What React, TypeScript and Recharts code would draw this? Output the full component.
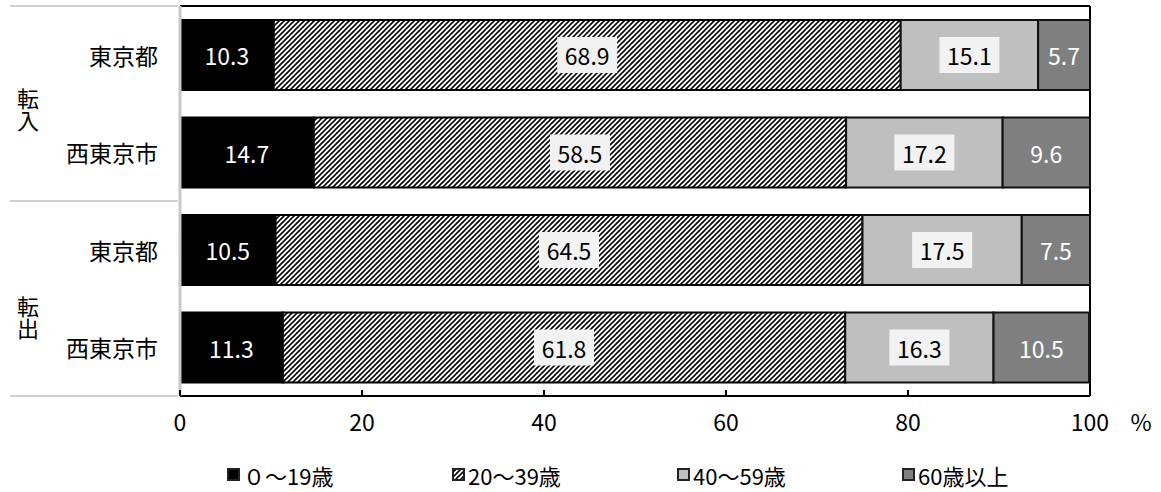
import React from 'react';
import { BarChart, Bar, XAxis, YAxis, LabelList, Customized } from 'recharts';

// Row labels (two origin groups, each split into Tokyo / Nishitokyo)
const groups = ['転入', '転出'];
const categories = ['東京都', '西東京市', '東京都', '西東京市'];

// Age-bracket shares (%)
const age0to19 = [10.3, 14.7, 10.5, 11.3];
const age20to39 = [68.9, 58.5, 64.5, 61.8];
const age40to59 = [15.1, 17.2, 17.5, 16.3];
const age60plus = [5.7, 9.6, 7.5, 10.5];

const seriesNames = ['０～19歳', '20～39歳', '40～59歳', '60歳以上'];
const xTicks = [0, 20, 40, 60, 80, 100];

const data = categories.map((name, i) => ({
  row: String(i),
  name,
  a: age0to19[i],
  b: age20to39[i],
  c: age40to59[i],
  d: age60plus[i],
}));

const W = 1161;
const H = 492;
const MARGIN = { top: 6, right: 71, bottom: 36, left: 10 };
const Y_AXIS_W = 170;
const X_AXIS_H = 60;
const FONT = "'Noto Sans CJK JP', 'Noto Sans', sans-serif";

const PLOT_LEFT = MARGIN.left + Y_AXIS_W;
const PLOT_RIGHT = W - MARGIN.right;
const PLOT_TOP = MARGIN.top;
const PLOT_BOTTOM = H - MARGIN.bottom - X_AXIS_H;

const LIGHT = '#bfbfbf';
const DARK = '#7f7f7f';

const makeLabel = (textColor: string, boxed: boolean) => (props: any) => {
  const { x, y, width, height, value } = props;
  const cx = Number(x) + Number(width) / 2;
  const cy = Number(y) + Number(height) / 2;
  return (
    <g>
      {boxed && <rect x={cx - 30} y={cy - 18} width={60} height={36} fill="#f2f2f2" />}
      <text
        x={cx}
        y={cy}
        textAnchor="middle"
        dominantBaseline="central"
        fill={textColor}
        fontSize={23}
        fontFamily={FONT}
      >
        {Number(value).toFixed(1)}
      </text>
    </g>
  );
};

const CategoryTick = (props: any) => {
  const { x, y, payload } = props;
  const name = data[Number(payload.value)]?.name ?? '';
  return (
    <text
      x={x - 22}
      y={y}
      textAnchor="end"
      dominantBaseline="central"
      fontSize={23}
      fontFamily={FONT}
      fill="#000"
    >
      {name}
    </text>
  );
};

const ValueTick = (props: any) => {
  const { x, y, payload } = props;
  return (
    <g>
      <line x1={x} y1={y} x2={x} y2={y - 6} stroke="#000" strokeWidth={2} />
      <text x={x} y={y + 35} textAnchor="middle" fontSize={23} fontFamily={FONT} fill="#000">
        {payload.value}
      </text>
    </g>
  );
};

// Frame, group separators, vertical group titles and the unit mark
const Decorations = () => {
  const half = (PLOT_BOTTOM - PLOT_TOP) / 2;
  const seps = [PLOT_TOP, PLOT_TOP + half, PLOT_BOTTOM];
  const titleX = 28;
  const titleTop = [88, 296];
  return (
    <g>
      {seps.map((y, i) => (
        <line key={i} x1={10} y1={y} x2={PLOT_LEFT - 2} y2={y} stroke="#d0d0d0" strokeWidth={2} />
      ))}
      <line x1={PLOT_LEFT} y1={PLOT_TOP} x2={PLOT_RIGHT} y2={PLOT_TOP} stroke="#000" strokeWidth={2} />
      <line x1={PLOT_RIGHT} y1={PLOT_TOP} x2={PLOT_RIGHT} y2={PLOT_BOTTOM} stroke="#000" strokeWidth={2} />
      {groups.map((g, i) => (
        <text
          key={g}
          x={titleX}
          y={titleTop[i]}
          style={{ writingMode: 'vertical-rl' as any }}
          fontSize={22}
          fontFamily={FONT}
          fill="#000"
        >
          {g}
        </text>
      ))}
      <text x={1141} y={PLOT_BOTTOM + 35} textAnchor="middle" fontSize={23} fontFamily={FONT} fill="#000">
        %
      </text>
    </g>
  );
};

const Hatch = ({ id }: { id: string }) => (
  <pattern id={id} patternUnits="userSpaceOnUse" width={5} height={5}>
    <rect width={5} height={5} fill="#fff" />
    <path d="M-1,1 l2,-2 M0,5 l5,-5 M4,6 l2,-2" stroke="#000" strokeWidth={1.6} />
  </pattern>
);

const legendFills = ['#000', 'url(#hatchLegend)', LIGHT, DARK];

const LegendRow = () => (
  <div
    style={{
      position: 'absolute',
      top: 462,
      left: 227,
      display: 'flex',
      alignItems: 'center',
      fontFamily: FONT,
      fontSize: 22,
      lineHeight: '26px',
      color: '#000',
    }}
  >
    {seriesNames.map((n, i) => (
      <div key={n} style={{ width: 225, display: 'flex', alignItems: 'center' }}>
        <svg width={14} height={14} style={{ marginRight: 2 }}>
          <defs>
            <Hatch id="hatchLegend" />
          </defs>
          <rect x={1} y={1} width={11} height={11} fill={legendFills[i]} stroke="#222" strokeWidth={2} />
        </svg>
        <span>{n}</span>
      </div>
    ))}
  </div>
);

export default function App() {
  return (
    <div style={{ position: 'absolute', left: 0, top: 0, width: W, height: H, background: '#fff' }}>
      <BarChart width={W} height={H} data={data} layout="vertical" margin={MARGIN} barSize={70}>
        <defs>
          <Hatch id="hatchBar" />
        </defs>
        <XAxis
          type="number"
          domain={[0, 100]}
          ticks={xTicks}
          height={X_AXIS_H}
          axisLine={{ stroke: '#000', strokeWidth: 2 }}
          tickLine={false}
          tickSize={0}
          tickMargin={0}
          tick={<ValueTick />}
          interval={0}
        />
        <YAxis
          type="category"
          dataKey="row"
          width={Y_AXIS_W}
          axisLine={{ stroke: '#c8c8c8', strokeWidth: 3 }}
          tickLine={false}
          tickSize={0}
          tickMargin={0}
          tick={<CategoryTick />}
        />
        <Bar dataKey="a" name={seriesNames[0]} stackId="s" fill="#000" stroke="#000" strokeWidth={2} isAnimationActive={false}>
          <LabelList dataKey="a" content={makeLabel('#fff', false)} />
        </Bar>
        <Bar dataKey="b" name={seriesNames[1]} stackId="s" fill="url(#hatchBar)" stroke="#000" strokeWidth={2} isAnimationActive={false}>
          <LabelList dataKey="b" content={makeLabel('#000', true)} />
        </Bar>
        <Bar dataKey="c" name={seriesNames[2]} stackId="s" fill={LIGHT} stroke="#111" strokeWidth={2} isAnimationActive={false}>
          <LabelList dataKey="c" content={makeLabel('#000', true)} />
        </Bar>
        <Bar dataKey="d" name={seriesNames[3]} stackId="s" fill={DARK} stroke="#111" strokeWidth={2} isAnimationActive={false}>
          <LabelList dataKey="d" content={makeLabel('#fff', false)} />
        </Bar>
        <Customized component={Decorations} />
      </BarChart>
      <LegendRow />
    </div>
  );
}
